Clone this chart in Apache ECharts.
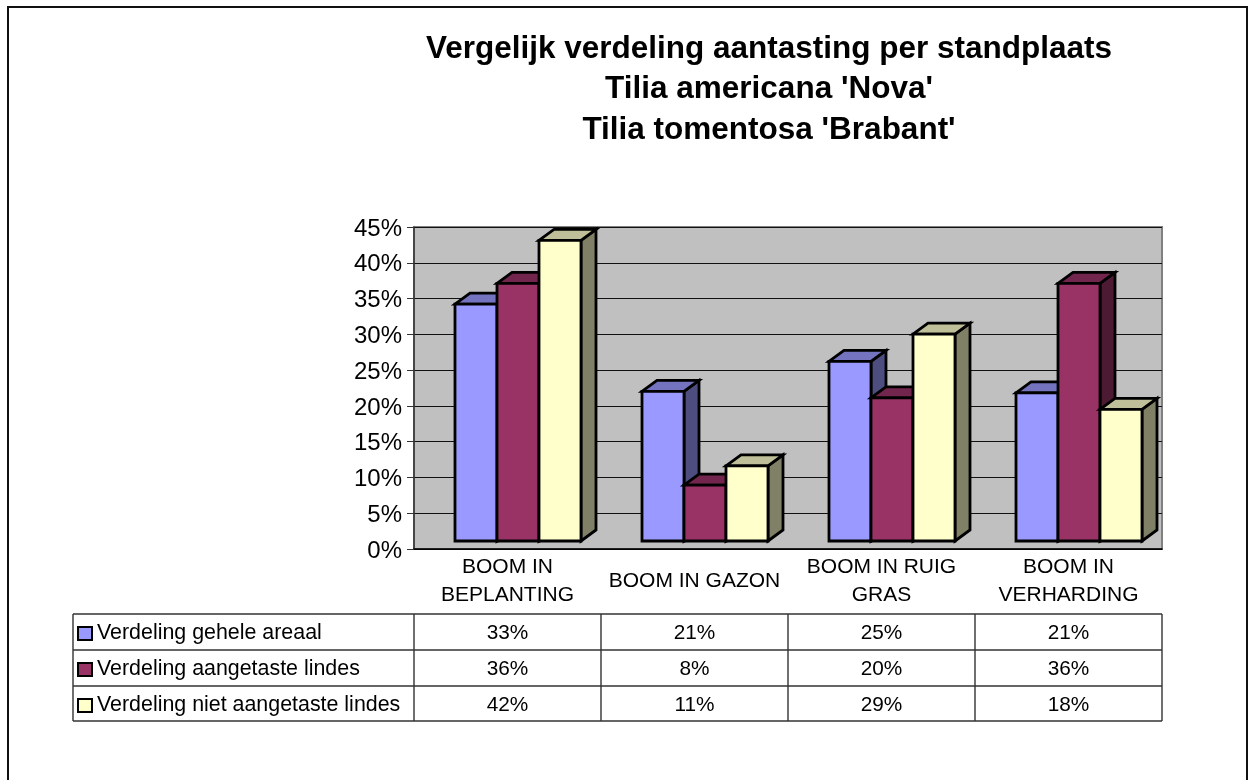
<!DOCTYPE html>
<html><head><meta charset="utf-8">
<style>html,body{margin:0;padding:0;background:#fff}#c{width:1248px;height:780px}</style>
<script src="https://cdn.jsdelivr.net/npm/echarts@6/dist/echarts.min.js"></script>
</head><body><div id="c"></div>
<script>
const titleLines = ["Vergelijk verdeling aantasting per standplaats", "Tilia americana 'Nova'", "Tilia tomentosa 'Brabant'"];
const categories = ["BOOM IN\nBEPLANTING", "BOOM IN GAZON", "BOOM IN RUIG\nGRAS", "BOOM IN\nVERHARDING"];
const seriesNames = ["Verdeling gehele areaal", "Verdeling aangetaste lindes", "Verdeling niet aangetaste lindes"];
const areaal = [33.1, 20.9, 25.1, 20.7];
const aangetast = [36, 7.8, 20, 36];
const nietAangetast = [42, 10.5, 28.9, 18.4];
const tableAreaal = ["33%", "21%", "25%", "21%"];
const tableAangetast = ["36%", "8%", "20%", "36%"];
const tableNiet = ["42%", "11%", "29%", "18%"];
const seriesValues = [areaal, aangetast, nietAangetast];
const tableRows = [tableAreaal, tableAangetast, tableNiet];
const faces = [
  {front:'#9999ff', top:'#7373bf', side:'#4d4d80'},
  {front:'#993366', top:'#73264d', side:'#4d1a33'},
  {front:'#ffffcc', top:'#bfbf99', side:'#808066'}
];
const FONT = '"Liberation Sans", Arial, sans-serif';
const G = {left:414, top:227, width:748, height:322};
const T = {left:73, right:1162, rows:[614,650,686,721]};
const BAR_W = 42, DX = 15, DY = 11, FLOOR = 8, GROUP_SHIFT = 10.5;

function bar3d(si){
  return function(params, api){
    const idx = api.value(0), v = api.value(1);
    const cx = api.coord([idx, 0])[0] + GROUP_SHIFT;
    const x0 = cx - 1.5*BAR_W + si*BAR_W, x1 = x0 + BAR_W;
    const yb = api.coord([idx, 0])[1] - FLOOR, yt = api.coord([idx, v])[1] - FLOOR;
    const ln = {stroke:'#000', lineWidth:2.8, lineJoin:'miter'};
    const poly = (pts, fill) => ({type:'polygon', shape:{points:pts}, style:Object.assign({fill}, ln)});
    return {type:'group', children:[
      poly([[x1,yb],[x1+DX,yb-DY],[x1+DX,yt-DY],[x1,yt]], faces[si].side),
      poly([[x0,yt],[x0+DX,yt-DY],[x1+DX,yt-DY],[x1,yt]], faces[si].top),
      poly([[x0,yb],[x1,yb],[x1,yt],[x0,yt]], faces[si].front)
    ]};
  };
}

const lineStyle = {stroke:'#333', lineWidth:1.4};
const graphics = [];
graphics.push({type:'polyline', silent:true, shape:{points:[[8,780],[8,7],[1247,7],[1247,780]]}, style:{stroke:'#111', lineWidth:2, fill:null}});
T.rows.forEach(y => graphics.push({type:'line', silent:true, shape:{x1:T.left,y1:y,x2:T.right,y2:y}, style:lineStyle}));
graphics.push({type:'line', silent:true, shape:{x1:T.left,y1:T.rows[0],x2:T.left,y2:T.rows[3]}, style:lineStyle});
for(let c=0;c<=categories.length;c++){
  const x = G.left + c*G.width/categories.length;
  graphics.push({type:'line', silent:true, shape:{x1:x,y1:T.rows[0],x2:x,y2:T.rows[3]}, style:lineStyle});
}
tableRows.forEach((row,r) => row.forEach((txt,c) => {
  graphics.push({type:'text', silent:true, x:G.left+(c+0.5)*G.width/categories.length, y:(T.rows[r]+T.rows[r+1])/2+1.5,
    style:{text:txt, font:'20.8px '+FONT, fill:'#000', textAlign:'center', textVerticalAlign:'middle'}});
}));
titleLines.forEach((t,i)=>graphics.push({type:'text', silent:true, x:769, y:49+i*40.5,
  style:{text:t, font:'bold 31.5px '+FONT, fill:'#000', textAlign:'center', textVerticalAlign:'middle'}}));

const chart = echarts.init(document.getElementById('c'));
chart.setOption({
  animation:false,
  backgroundColor:'#fff',
  textStyle:{fontFamily:FONT},
  grid:{left:G.left, top:G.top, width:G.width, height:G.height, show:true, backgroundColor:'#c0c0c0', borderColor:'#808080', borderWidth:2},
  legend:{orient:'vertical', left:77, top:622, itemWidth:14, itemHeight:13, itemGap:13, selectedMode:false, padding:0,
    icon:'rect', itemStyle:{borderColor:'#000', borderWidth:2},
    textStyle:{fontSize:21.4, color:'#000', padding:[2,0,0,0], lineHeight:21, fontFamily:FONT},
    data:seriesNames},
  xAxis:{type:'category', data:categories, axisLine:{lineStyle:{color:'#000', width:1.5}},
    axisTick:{length:65, lineStyle:{color:'#333', width:1.4}},
    axisLabel:{color:'#000', fontSize:21, margin:32, verticalAlign:'middle', lineHeight:28, fontFamily:FONT, interval:0}},
  yAxis:{type:'value', min:0, max:45, interval:5,
    axisLine:{show:true, lineStyle:{color:'#333', width:1.5}},
    axisTick:{show:true, length:7, lineStyle:{color:'#333'}},
    axisLabel:{color:'#000', fontSize:24, margin:12, verticalAlign:'top', lineHeight:4, formatter:'{value}%', fontFamily:FONT},
    splitLine:{show:true, lineStyle:{color:'#111', width:1}}},
  series:seriesNames.map((name,si)=>({
    name, type:'custom', coordinateSystem:'cartesian2d', clip:false, silent:true,
    itemStyle:{color:faces[si].front},
    renderItem:bar3d(si),
    encode:{x:0,y:1},
    data:seriesValues[si].map((v,i)=>[i,v]),
    z:2+si
  })),
  graphic:graphics
});
</script></body></html>
